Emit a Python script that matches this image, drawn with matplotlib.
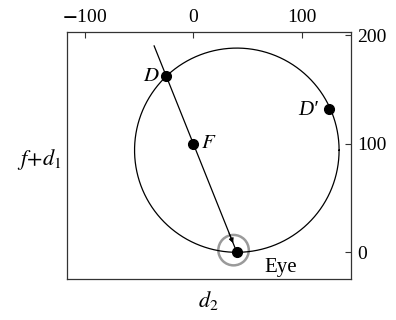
import matplotlib
matplotlib.use("Agg")
import matplotlib.pyplot as plt
import numpy as np

plt.rcParams["font.family"] = ["Liberation Serif", "DejaVu Serif"]
plt.rcParams["mathtext.fontset"] = "stix"

# geometry (d2, f+d1)
eye = (40, 0)
focus = (0, 100)
point_d = (-25, 162)
point_dp = (125, 132)
circle_center = (40, 94)
circle_radius = 94
ray_end = (-36, 190)
x_ticks = [-100, 0, 100]
y_ticks = [0, 100, 200]

fig = plt.figure(figsize=(3.96, 3.2), dpi=100)
ax = fig.add_axes([0.170, 0.128, 0.7176, 0.773])
ax.set_xlim(-115.8, 145.4)
ax.set_ylim(-24.6, 203.1)

theta = np.linspace(0, 2 * np.pi, 400)
ax.plot(circle_center[0] + circle_radius * np.cos(theta),
        circle_center[1] + circle_radius * np.sin(theta),
        color="black", lw=0.9)

# ray from the eye through F
ax.plot([eye[0], ray_end[0]], [eye[1], ray_end[1]], color="black", lw=0.9)
ax.annotate("", xy=(eye[0] - 0.06 * 40, eye[1] + 0.06 * 100),
            xytext=(eye[0] - 0.2 * 40, eye[1] + 0.2 * 100),
            arrowprops=dict(arrowstyle="-|>", color="black", lw=0.8,
                            mutation_scale=7))

# eye ring
ring = plt.Circle((37, 2), 14, fill=False, color="#9a9a9a", lw=1.8)
ax.add_patch(ring)

for px, py in [eye, focus, point_d, point_dp]:
    ax.plot(px, py, "o", color="black", ms=7)

ax.text(point_d[0] - 6, point_d[1], r"$D$", fontsize=15, ha="right", va="center")
ax.text(focus[0] + 7, focus[1], r"$F$", fontsize=15, ha="left", va="center")
ax.text(point_dp[0] - 10, point_dp[1] - 1, "D\u2032", fontsize=15, style="italic",
        ha="right", va="center")
ax.text(eye[0] + 25, eye[1] - 14, "Eye", fontsize=15, ha="left", va="center")

ax.set_xticks(x_ticks)
ax.set_yticks(y_ticks)
ax.set_xticklabels([r"$\mathbf{-}$100" if t < 0 else str(t) for t in x_ticks])
ax.xaxis.tick_top()
ax.yaxis.tick_right()
ax.tick_params(direction="in", length=4, width=0.8, labelsize=14, pad=4,
               colors="#333333", labelcolor="black")
for s in ax.spines.values():
    s.set_linewidth(0.9)
    s.set_color("#333333")

fig.text(40 / 396, 1 - 160 / 320, r"$f\!+\!d_1$", fontsize=16, ha="center", va="center")
fig.text(208 / 396, 1 - 301 / 320, r"$d_2$", fontsize=16, ha="center", va="center")

fig.savefig("out.png", dpi=100)
